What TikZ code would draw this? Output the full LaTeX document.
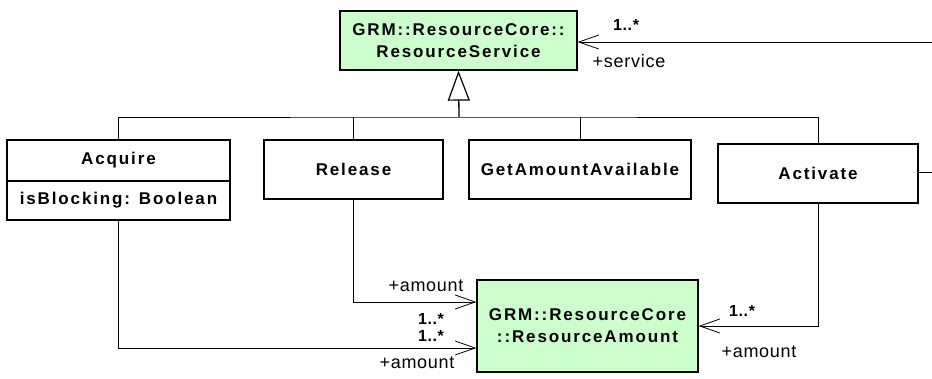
\documentclass[tikz,border=0pt]{standalone}
\usepackage{fontspec}
\setmainfont{Liberation Sans}
\newfontfamily\clsfont[LetterSpace=11]{Liberation Sans}
\newfontfamily\lblfont[LetterSpace=4]{Liberation Sans}
\usetikzlibrary{arrows.meta}
\definecolor{clsgreen}{HTML}{CCFFCC}
\tikzset{
  cls/.style={draw=black, line width=1.3pt, inner sep=0pt, align=center,
    font=\clsfont\bfseries\fontsize{17}{22}\selectfont, text=black},
  lbl/.style={inner sep=0pt, text height=12pt, text depth=0pt,
    font=\lblfont\fontsize{18}{20}\selectfont, text=black},
  mult/.style={inner sep=0pt, text height=11pt, text depth=0pt,
    font=\lblfont\bfseries\fontsize{16}{18}\selectfont, text=black},
  conn/.style={draw=black, line width=0.8pt},
  assoc/.style={conn, -{Straight Barb[length=20pt,width=14pt,line width=0.8pt]}},
  gen/.style={conn, line width=1.3pt, -{Triangle[open,length=30pt,width=22pt,line width=1.2pt]}},
}
\begin{document}
\begin{tikzpicture}[x=1pt,y=-1pt]
\useasboundingbox (0,0) rectangle (932,379);
% classes
\node[cls, fill=clsgreen, minimum width=237pt, minimum height=59pt] (svc) at (458.5,40.5)
  {GRM::ResourceCore::\\ResourceService};
\node[cls, minimum width=223pt, minimum height=41pt] (acq) at (118.5,160.5) {Acquire};
\node[cls, minimum width=223pt, minimum height=39pt] (acqattr) at (118.5,200.5) {isBlocking: Boolean};
\node[cls, minimum width=179pt, minimum height=59pt] (rel) at (353.5,169.5) {Release};
\node[cls, minimum width=222pt, minimum height=59pt] (gaa) at (580,169.5) {GetAmountAvailable};
\node[cls, minimum width=200pt, minimum height=59pt] (act) at (818,173.5) {Activate};
\node[cls, fill=clsgreen, minimum width=221pt, minimum height=92pt] (amt) at (587.5,326)
  {GRM::ResourceCore\\::ResourceAmount};
% generalization tree
\coordinate (bus) at (459,117);
\draw[conn] (acq.north) |- (bus) -| (act.north);
\draw[conn] (rel.north) -- (rel.north |- bus);
\draw[conn] (gaa.north) -- (gaa.north |- bus);
\draw[gen] (bus) -- (svc.south);
% service association
\coordinate (svcR) at (932,42);
\draw[assoc] (svcR) -- (svc.east |- svcR);
\node[mult] (m1) at (626,25) {1..*};
\node[lbl] (r1) at (629,62) {+service};
% activate right stub
\coordinate (actR) at (932,172);
\draw[conn] (act.east |- actR) -- (actR);
% amount associations
\draw[assoc] (rel.south) |- ([yshift=24pt]amt.west);
\draw[assoc] (acqattr.south) |- ([yshift=-22pt]amt.west);
\draw[assoc] (act.south) |- (amt.east);
\node[lbl] (r2) at (426,286) {+amount};
\node[mult] (m2) at (431,319) {1..*};
\node[mult] (m3) at (431,336) {1..*};
\node[lbl] (r3) at (417,362) {+amount};
\node[mult] (m4) at (742,311) {1..*};
\node[lbl] (r4) at (759,351) {+amount};
\end{tikzpicture}
\end{document}
